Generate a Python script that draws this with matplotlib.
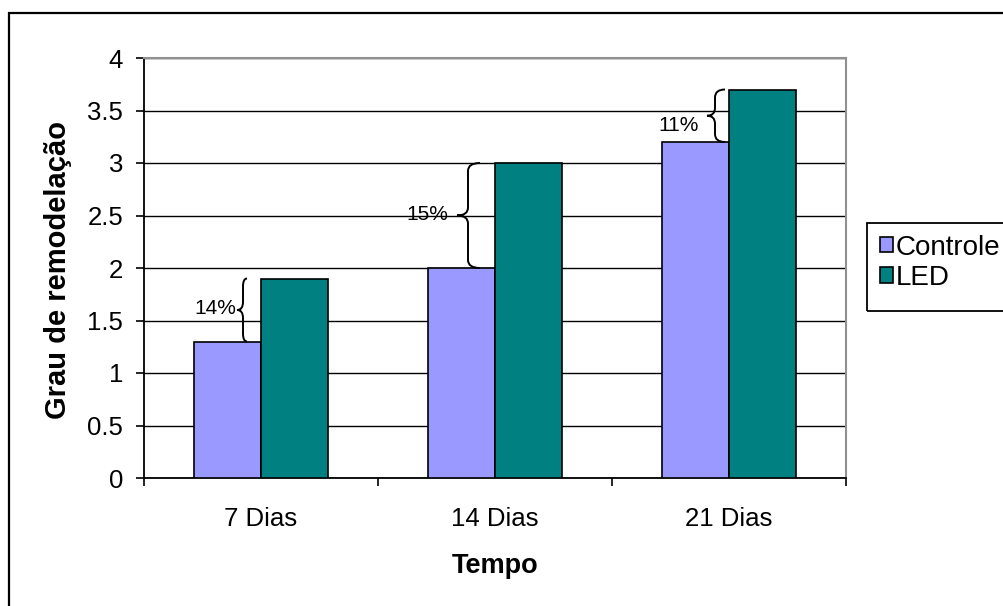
import matplotlib
matplotlib.use("Agg")
import matplotlib.pyplot as plt
from matplotlib.patches import Rectangle, PathPatch
from matplotlib.path import Path
import numpy as np

plt.rcParams['font.family'] = ['Liberation Sans', 'DejaVu Sans']

categories = ["7 Dias", "14 Dias", "21 Dias"]
controle = [1.3, 2.0, 3.2]
led = [1.9, 3.0, 3.7]
ganho = ["14%", "15%", "11%"]
series_names = ["Controle", "LED"]
yticks = [0, 0.5, 1, 1.5, 2, 2.5, 3, 3.5, 4]

# brace geometry in pixels relative to the category centre:
# (right end, stem, tip, label x, label y shift)
brace_style = [(-14, -18, -24, -46, 2), (-15, -27, -38, -68, 1), (-4, -14, -22, -50, -10)]

W, H = 1004, 606
fig = plt.figure(figsize=(W / 100, H / 100), dpi=100)
ax = fig.add_axes([144 / W, 1 - 478 / H, 702 / W, 420 / H])

x = np.arange(len(categories))
bw = 0.286
ax.bar(x - bw / 2, controle, bw, color="#9999FF", edgecolor="black", linewidth=1.2,
       label=series_names[0], zorder=3)
ax.bar(x + bw / 2, led, bw, color="#008080", edgecolor="black", linewidth=1.2,
       label=series_names[1], zorder=3)

ax.set_xlim(-0.5, 2.5)
ax.set_ylim(0, 4)
ax.set_yticks(yticks)
ax.set_yticklabels([f"{v:g}" for v in yticks])
ax.yaxis.grid(True, color="black", linewidth=1.0, zorder=0)
ax.set_axisbelow(True)

ax.set_xticks([-0.5, 0.5, 1.5, 2.5])
ax.set_xticklabels([])
ax.set_xticks(x, minor=True)
ax.set_xticklabels(categories, minor=True)
ax.tick_params(axis="x", which="major", length=6, width=1.2, direction="out")
ax.tick_params(axis="x", which="minor", length=0, pad=21, labelsize=18.5)
ax.tick_params(axis="y", length=6, width=1.2, direction="out", pad=9, labelsize=18.5)

for s in ("top", "right"):
    ax.spines[s].set_color("#909090")
    ax.spines[s].set_linewidth(1.5)
for s in ("left", "bottom"):
    ax.spines[s].set_color("black")
    ax.spines[s].set_linewidth(1.3)

ax.set_ylabel("Grau de remodelação", fontsize=21, fontweight="bold")
ax.yaxis.set_label_coords(-72.5 / 702, 0.495)
ax.set_xlabel("Tempo", fontsize=19.5, fontweight="bold", labelpad=16)

# curly braces marking the difference between the two series
sx = ax.bbox.width / 3.0
sy = ax.bbox.height / 4.0
r = 8 / sy
for i, (lo, hi, txt, st) in enumerate(zip(controle, led, ganho, brace_style)):
    xr, xm, xt, xl = [v / sx + x[i] for v in st[:4]]
    dy = st[4] / sy
    ym = (lo + hi) / 2
    verts = [(xr, hi), (xm, hi), (xm, hi - r),
             (xm, ym + r), (xm, ym), (xt, ym),
             (xm, ym), (xm, ym - r),
             (xm, lo + r), (xm, lo), (xr, lo)]
    codes = [Path.MOVETO, Path.CURVE3, Path.CURVE3,
             Path.LINETO, Path.CURVE3, Path.CURVE3,
             Path.CURVE3, Path.CURVE3,
             Path.LINETO, Path.CURVE3, Path.CURVE3]
    ax.add_patch(PathPatch(Path(verts, codes), facecolor="none", edgecolor="black",
                           linewidth=1.4, zorder=4, clip_on=False))
    ax.text(xl, ym + dy, txt, ha="center", va="center", fontsize=15, zorder=5)

# legend entries without their own frame; the box is drawn separately
leg = fig.legend(loc="upper left", bbox_to_anchor=(867 / W, 1 - 221.5 / H),
                 fontsize=20, frameon=False,
                 handlelength=0.47, handleheight=0.47, handletextpad=0.1,
                 labelspacing=0.16, borderpad=0.47, borderaxespad=0)
fig.patches.append(Rectangle((867 / W, 1 - 311 / H), 0.3, 88 / H,
                             transform=fig.transFigure, fill=False,
                             edgecolor="black", linewidth=1.3))

# outer chart border
fig.patches.append(Rectangle((9 / W, -0.1), 1.2, 1 - 13 / H + 0.1,
                             transform=fig.transFigure, fill=False,
                             edgecolor="black", linewidth=1.6))

fig.savefig("out.png", dpi=100)
